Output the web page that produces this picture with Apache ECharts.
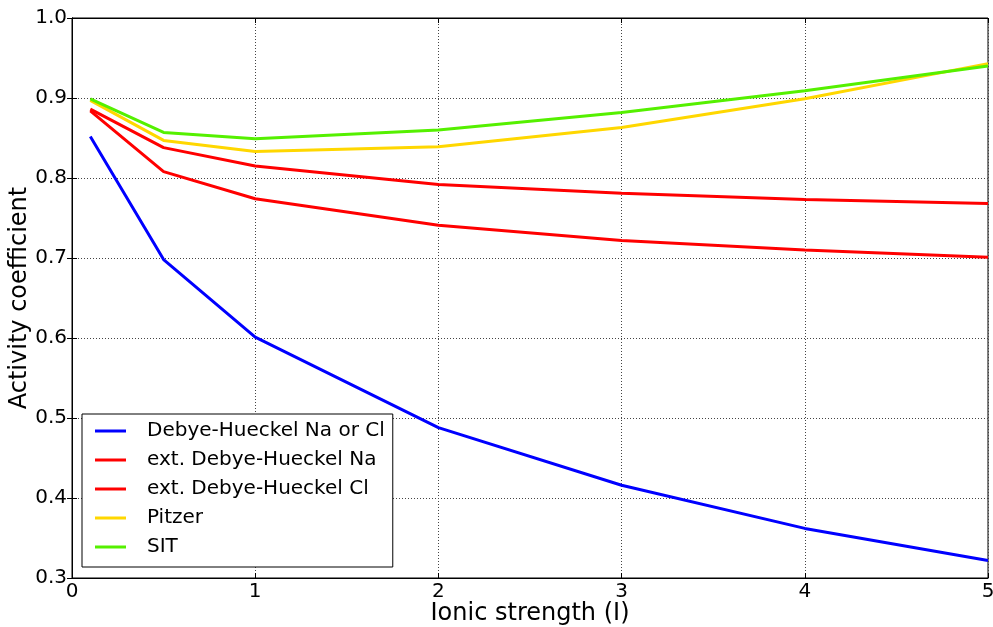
<!DOCTYPE html>
<html>
<head>
<meta charset="utf-8">
<script src="https://cdn.jsdelivr.net/npm/echarts@6/dist/echarts.min.js"></script>
<style>html,body{margin:0;padding:0;background:#fff;}#c{width:993px;height:627px;}</style>
</head>
<body>
<div id="c"></div>
<script>
const ionicStrength = [0.1, 0.5, 1, 2, 3, 4, 5];
const debyeHueckel = [0.852, 0.698, 0.601, 0.488, 0.416, 0.362, 0.322];
const extDHNa = [0.886, 0.838, 0.815, 0.792, 0.781, 0.773, 0.768];
const extDHCl = [0.884, 0.808, 0.774, 0.741, 0.722, 0.710, 0.701];
const pitzer = [0.897, 0.847, 0.833, 0.839, 0.863, 0.899, 0.943];
const sit = [0.899, 0.857, 0.849, 0.860, 0.882, 0.909, 0.940];
const seriesNames = ['Debye-Hueckel Na or Cl', 'ext. Debye-Hueckel Na', 'ext. Debye-Hueckel Cl', 'Pitzer', 'SIT'];
const seriesColors = ['#0000ff', '#ff0000', '#ff0000', '#ffd700', '#55f000'];
const seriesValues = [debyeHueckel, extDHNa, extDHCl, pitzer, sit];

const font = 'DejaVu Sans';
const chart = echarts.init(document.getElementById('c'), null, {renderer: 'canvas'});

const gridLine = {show: true, lineStyle: {type: [1, 2], color: '#444', width: 1}};
const series = seriesNames.map((n, i) => ({
  name: n,
  type: 'line',
  symbol: 'none',
  color: seriesColors[i],
  lineStyle: {width: 3, color: seriesColors[i]},
  data: ionicStrength.map((x, j) => [x, seriesValues[i][j]]),
  z: 3 + i
}));

chart.setOption({
  animation: false,
  backgroundColor: '#fff',
  textStyle: {fontFamily: font},
  grid: {left: 72, right: 5, top: 18, bottom: 49, show: true, borderColor: '#000', borderWidth: 1, containLabel: false, outerBoundsMode: 'none'},
  legend: {
    orient: 'vertical',
    left: 82,
    top: 414,
    icon: 'rect',
    itemWidth: 31,
    itemHeight: 3,
    itemGap: 9,
    padding: [7, 8, 10, 13],
    borderColor: '#000',
    borderWidth: 1,
    backgroundColor: '#fff',
    textStyle: {fontFamily: font, fontSize: 20, color: '#000', lineHeight: 20, padding: [0, 0, 0, 16]},
    data: seriesNames
  },
  xAxis: [{
    type: 'value', min: 0, max: 5, interval: 1,
    name: 'Ionic strength (I)', nameLocation: 'middle', nameGap: 24, nameMoveOverlap: false,
    nameTextStyle: {fontFamily: font, fontSize: 24, color: '#000'},
    axisLine: {show: true, lineStyle: {color: '#000', width: 1}},
    axisTick: {show: true, inside: true, length: 5, lineStyle: {color: '#000'}},
    axisLabel: {fontFamily: font, fontSize: 20, color: '#000', margin: 4},
    splitLine: gridLine
  }, {
    type: 'value', min: 0, max: 5, interval: 1, position: 'top',
    axisLine: {show: true, lineStyle: {color: '#000'}},
    axisTick: {show: true, inside: true, length: 5, lineStyle: {color: '#000'}},
    axisLabel: {show: false}, splitLine: {show: false}
  }],
  yAxis: [{
    type: 'value', min: 0.3, max: 1.0, interval: 0.1,
    name: 'Activity coefficient', nameLocation: 'middle', nameGap: 40, nameMoveOverlap: false,
    nameTextStyle: {fontFamily: font, fontSize: 24, color: '#000'},
    axisLine: {show: true, lineStyle: {color: '#000', width: 1}},
    axisTick: {show: true, inside: true, length: 5, lineStyle: {color: '#000'}},
    axisLabel: {fontFamily: font, fontSize: 20, color: '#000', margin: 5, formatter: v => v.toFixed(1)},
    splitLine: gridLine
  }, {
    type: 'value', min: 0.3, max: 1.0, interval: 0.1, position: 'right',
    axisLine: {show: true, lineStyle: {color: '#000'}},
    axisTick: {show: true, inside: true, length: 5, lineStyle: {color: '#000'}},
    axisLabel: {show: false}, splitLine: {show: false}
  }],
  series: series
});
</script>
</body>
</html>
